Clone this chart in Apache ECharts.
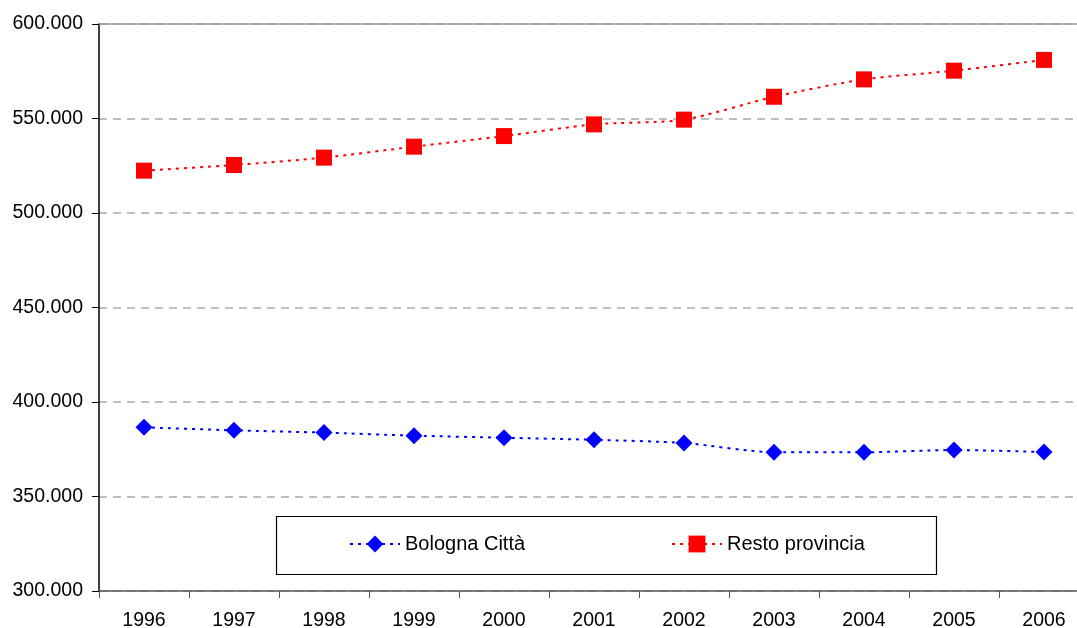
<!DOCTYPE html>
<html>
<head>
<meta charset="utf-8">
<script src="https://cdn.jsdelivr.net/npm/echarts@6/dist/echarts.min.js"></script>
<style>
  html, body { margin: 0; padding: 0; background: #fff; overflow: hidden; }
  #chart { width: 1077px; height: 628px; }
</style>
</head>
<body>
<div id="chart"></div>
<script>
var years = ['1996', '1997', '1998', '1999', '2000', '2001', '2002', '2003', '2004', '2005', '2006'];
var bolognaCitta = [386600, 385000, 383800, 382200, 381100, 380000, 378300, 373400, 373400, 374600, 373500];
var restoProvincia = [522400, 525400, 529300, 535100, 540700, 546900, 549400, 561500, 570700, 575300, 581000];
var seriesNames = ['Bologna Città', 'Resto provincia'];

var font = 'Liberation Sans, Arial, sans-serif';

function fmt(v) {
  return String(v).replace(/\B(?=(\d{3})+(?!\d))/g, '.');
}

var chart = echarts.init(document.getElementById('chart'), null, { renderer: 'canvas' });

var legendCommon = {
  top: 534,
  orient: 'horizontal',
  padding: 0,
  itemWidth: 50,
  itemHeight: 21,
  textStyle: { fontFamily: font, fontSize: 20, color: '#000' }
};

var option = {
  backgroundColor: '#fff',
  animation: false,
  // plot runs past the right edge of the window, like the original
  grid: { left: 99, top: 24, width: 990, height: 567, containLabel: false, outerBoundsMode: 'none' },
  graphic: [{
    type: 'rect',
    shape: { x: 276.5, y: 516.5, width: 660, height: 58 },
    style: { fill: 'none', stroke: '#000', lineWidth: 1.2 },
    z: 0
  }],
  legend: [
    Object.assign({ data: [seriesNames[0]], left: 349 }, legendCommon),
    Object.assign({ data: [seriesNames[1]], left: 671 }, legendCommon)
  ],
  xAxis: [{
    type: 'category',
    data: years,
    boundaryGap: true,
    axisLine: { lineStyle: { color: '#555', width: 1.5 } },
    axisTick: { show: true, length: 7, inside: false, lineStyle: { color: '#555' } },
    axisLabel: { fontFamily: font, fontSize: 19.5, color: '#000', margin: 20 },
    splitLine: { show: false }
  }, {
    type: 'category',
    position: 'top',
    data: years,
    axisLine: { lineStyle: { color: '#999', width: 1.5 } },
    axisTick: { show: false },
    axisLabel: { show: false },
    splitLine: { show: false }
  }],
  yAxis: {
    type: 'value',
    min: 300000,
    max: 600000,
    interval: 50000,
    axisLine: { show: true, lineStyle: { color: '#000', width: 1.5 } },
    axisTick: { show: true, length: 7, lineStyle: { color: '#000' } },
    axisLabel: { fontFamily: font, fontSize: 19.5, color: '#000', margin: 16, formatter: fmt },
    splitLine: { show: true, lineStyle: { color: '#aaa', type: [8, 6], width: 1.5 } }
  },
  series: [{
    name: seriesNames[0],
    type: 'line',
    data: bolognaCitta,
    smooth: 0.25,
    symbol: 'diamond',
    symbolSize: 17,
    itemStyle: { color: '#0000ff' },
    lineStyle: { color: '#0000ff', width: 2, type: [3, 5] }
  }, {
    name: seriesNames[1],
    type: 'line',
    data: restoProvincia,
    smooth: 0.25,
    symbol: 'rect',
    symbolSize: 16,
    itemStyle: { color: '#ff0000' },
    lineStyle: { color: '#ff0000', width: 2, type: [3, 5] }
  }]
};

chart.setOption(option);
</script>
</body>
</html>
